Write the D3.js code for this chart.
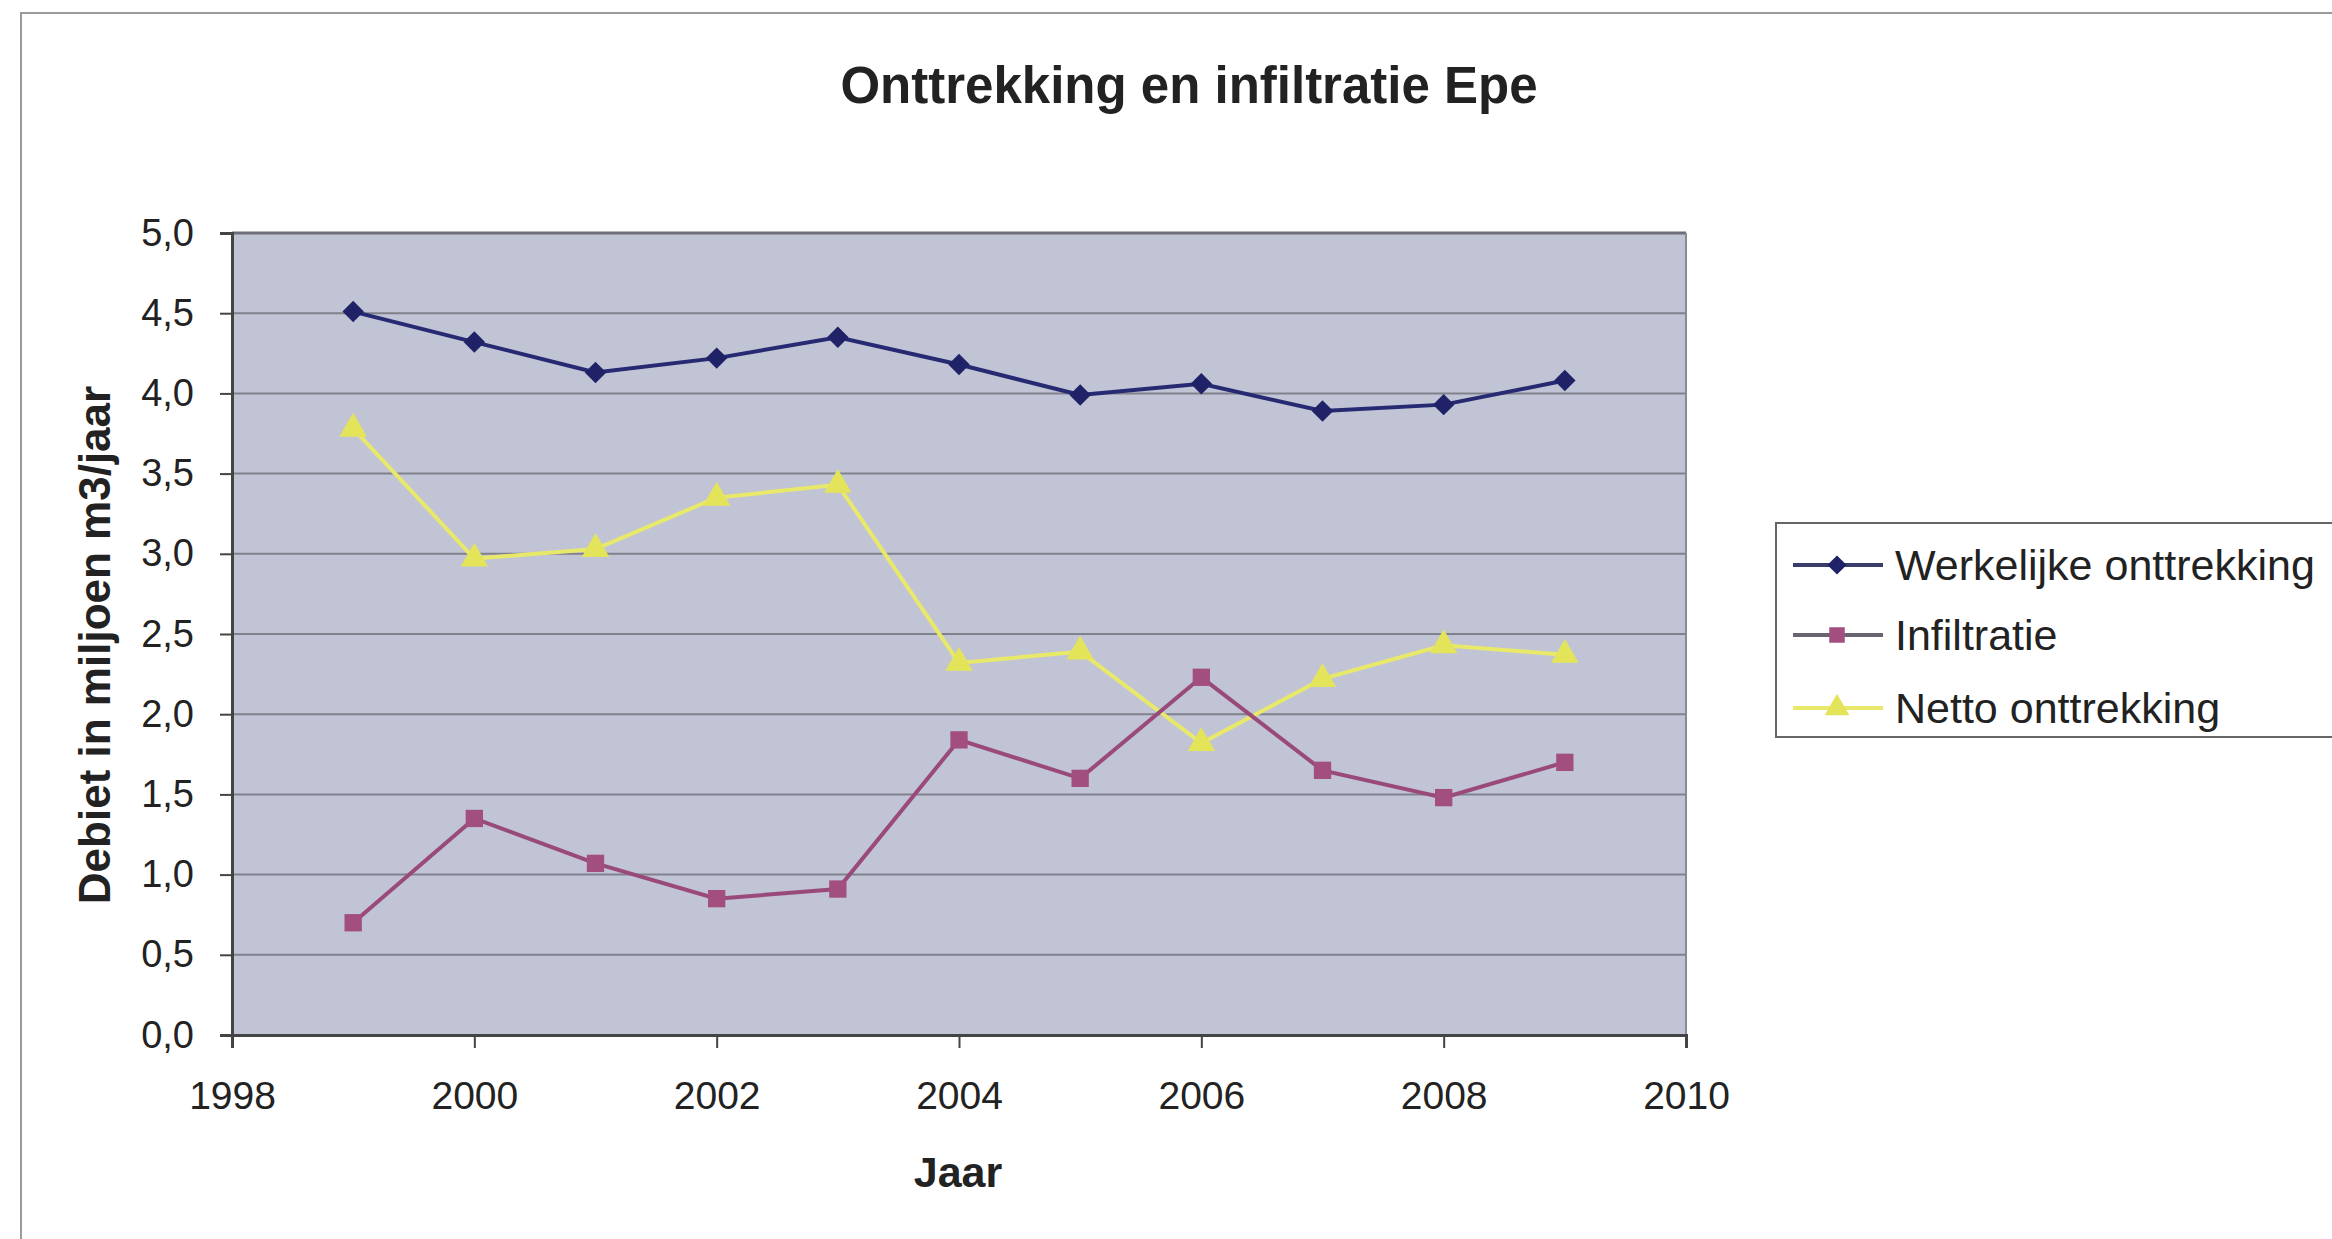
<!DOCTYPE html>
<html><head><meta charset="utf-8">
<script src="https://cdn.jsdelivr.net/npm/d3@7"></script>
<style>
html,body{margin:0;padding:0;background:#fff;}
svg{display:block;}
text{font-family:"Liberation Sans",Arial,sans-serif;fill:#222;}
</style></head>
<body>
<script>
const years = [1999,2000,2001,2002,2003,2004,2005,2006,2007,2008,2009];
const werkelijke = [4.51,4.32,4.13,4.22,4.35,4.18,3.99,4.06,3.89,3.93,4.08];
const infiltratie = [0.70,1.35,1.07,0.85,0.91,1.84,1.60,2.23,1.65,1.48,1.70];
const netto = [3.78,2.97,3.03,3.35,3.43,2.32,2.39,1.82,2.22,2.43,2.37];
const seriesNames = ["Werkelijke onttrekking","Infiltratie","Netto onttrekking"];
const xTicks = [1998,2000,2002,2004,2006,2008,2010];
const yTicks = [0,0.5,1,1.5,2,2.5,3,3.5,4,4.5,5];
const title = "Onttrekking en infiltratie Epe";
const xTitle = "Jaar";
const yTitle = "Debiet in miljoen m3/jaar";

const W = 2332, H = 1239;
const svg = d3.select("body").append("svg").attr("width", W).attr("height", H);

// outer frame
svg.append("rect").attr("x",21).attr("y",13).attr("width",W).attr("height",H)
  .attr("fill","#fff").attr("stroke","#9a9a9a").attr("stroke-width",2);

const L = 232, R = 1686, T = 233, B = 1035;
const x = d3.scaleLinear().domain([1998,2010]).range([L,R]);
const y = d3.scaleLinear().domain([0,5]).range([B,T]);

// plot background
svg.append("rect").attr("x",L).attr("y",T).attr("width",R-L).attr("height",B-T)
  .attr("fill","#c1c4d4");

// gridlines
svg.append("g").selectAll("line").data(yTicks.filter(d=>d>0)).join("line")
  .attr("x1",L).attr("x2",R).attr("y1",d=>y(d)).attr("y2",d=>y(d))
  .attr("stroke", d=> d===5 ? "#6e6e78" : "#80818c").attr("stroke-width", d=> d===5 ? 3 : 2);
// right border
svg.append("line").attr("x1",R).attr("x2",R).attr("y1",T).attr("y2",B).attr("stroke","#8a8a96").attr("stroke-width",2);

// axes
const fmt = d => d3.format(".1f")(d).replace(".", ",");
const yAxis = d3.axisLeft(y).tickValues(yTicks).tickFormat(fmt).tickSize(12).tickPadding(26);
const gy = svg.append("g").attr("transform",`translate(${L},0)`).call(yAxis);
gy.select(".domain").attr("stroke","#444").attr("stroke-width",3);
gy.selectAll(".tick line").attr("stroke","#444").attr("stroke-width",2);
gy.selectAll(".tick text").attr("font-size",38).attr("fill","#222").attr("font-family","Liberation Sans, Arial, sans-serif");

const xAxis = d3.axisBottom(x).tickValues(xTicks).tickFormat(d3.format("d")).tickSize(13).tickPadding(33);
const gx = svg.append("g").attr("transform",`translate(0,${B})`).call(xAxis);
gx.select(".domain").attr("stroke","#444").attr("stroke-width",3);
gx.selectAll(".tick line").attr("stroke","#444").attr("stroke-width",2);
gx.selectAll(".tick text").attr("font-size",39).attr("fill","#222").attr("font-family","Liberation Sans, Arial, sans-serif");

// titles
svg.append("text").attr("x",1189).attr("y",103).attr("text-anchor","middle")
  .attr("font-size",51).attr("font-weight","bold").text(title);
svg.append("text").attr("x",958).attr("y",1187).attr("text-anchor","middle")
  .attr("font-size",43).attr("font-weight","bold").text(xTitle);
svg.append("text").attr("transform","translate(110,645) rotate(-90)").attr("text-anchor","middle")
  .attr("font-size",44).attr("font-weight","bold").text(yTitle);

// series
const series = [
  {name:seriesNames[0], values:werkelijke, color:"#262a72", mfill:"#1f2266", shape:d3.symbolSquare, size:230, rot:45},
  {name:seriesNames[1], values:infiltratie, color:"#9a4a7a", mfill:"#a24f80", shape:d3.symbolSquare, size:300, rot:0},
  {name:seriesNames[2], values:netto, color:"#e8e86a", mfill:"#e4e45a", shape:d3.symbolTriangle, size:330, rot:0}
];
const line = d3.line().x((d,i)=>x(years[i])).y(d=>y(d));
const gS = svg.append("g");
series.slice().reverse().forEach(s=>{
  gS.append("path").attr("d",line(s.values)).attr("fill","none")
    .attr("stroke",s.color).attr("stroke-width",4);
  gS.append("g").selectAll("path").data(s.values).join("path")
    .attr("transform",(d,i)=>`translate(${x(years[i])},${y(d)}) rotate(${s.rot})`)
    .attr("d",d3.symbol().type(s.shape).size(s.size)).attr("fill",s.mfill);
});

// legend
const lg = svg.append("g");
lg.append("rect").attr("x",1776).attr("y",523).attr("width",620).attr("height",214)
  .attr("fill","#fff").attr("stroke","#666").attr("stroke-width",2);
const rows = [565,635,708];
series.forEach((s,i)=>{
  lg.append("line").attr("x1",1793).attr("x2",1883).attr("y1",rows[i]).attr("y2",rows[i])
    .attr("stroke", i===2 ? s.color : (i===0 ? "#3a3c6a" : "#6a6470")).attr("stroke-width",4);
  lg.append("path").attr("transform",`translate(1837,${rows[i]}) rotate(${s.rot})`)
    .attr("d",d3.symbol().type(s.shape).size(s.size*0.8)).attr("fill",s.mfill);
  lg.append("text").attr("x",1895).attr("y",rows[i]).attr("dy","0.36em")
    .attr("font-size",43).text(s.name);
});
</script>
</body></html>
